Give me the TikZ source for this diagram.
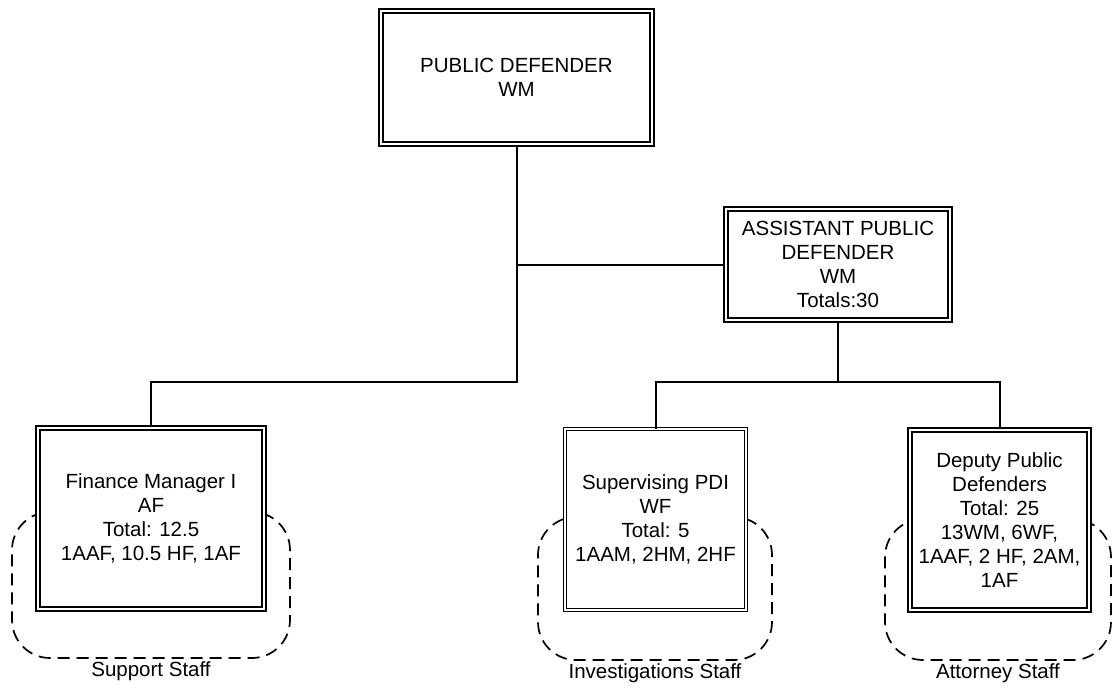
\documentclass[tikz,border=0pt]{standalone}
\usepackage{fontspec}
\setmainfont{Liberation Sans}
\usetikzlibrary{positioning}
\begin{document}
\begin{tikzpicture}
  [x=1pt,y=-1pt,every node/.style={align=center,font=\fontsize{20.5}{24}\selectfont},
   post/.style={rectangle,draw,double,double distance=2.2pt,line width=1.8pt,fill=white,inner sep=2pt},
   thinpost/.style={post,line width=1pt,double distance=2.4pt},
   staffgrp/.style={rectangle,draw,dash pattern=on 12pt off 7pt,line width=1.7pt,rounded corners=38pt},
   grplabel/.style={inner sep=0pt},
   link/.style={line width=2pt}]
\useasboundingbox (0,0) rectangle (1112,688);
% dashed staff groups
\node (supgrp)[staffgrp,minimum width=278,minimum height=146] at (151,585) {};
  \node (invgrp)[staffgrp,minimum width=234,minimum height=143] at (655,588.5) {};
  \node (attgrp)[staffgrp,minimum width=226,minimum height=141] at (998,589.5) {};
  \node (suplbl)[grplabel,below=3pt of supgrp] {Support Staff};
  \node (invlbl)[grplabel,below=3pt of invgrp] {Investigations Staff};
  \node (attlbl)[grplabel,below=3pt of attgrp] {Attorney Staff};
% positions
\node (pd)[post,minimum width=271,minimum height=133] at (516.5,77.5) {PUBLIC DEFENDER\\WM};
  \node (apd)[post,minimum width=224,minimum height=111] at (838,264.5) {ASSISTANT PUBLIC\\DEFENDER\\WM\\Totals:30};
  \node (fin)[post,minimum width=226,minimum height=181] at (151,518.5) {Finance Manager I\\AF\\Total: 12.5\\1AAF, 10.5 HF, 1AF};
  \node (spdi)[thinpost,minimum width=180.6,minimum height=180.6] at (655.5,519.5) {Supervising PDI\\WF\\Total: 5\\1AAM, 2HM, 2HF};
  \node (dpd)[post,minimum width=179,minimum height=180] at (999.5,520) {Deputy Public\\Defenders\\Total: 25\\13WM, 6WF,\\1AAF, 2 HF, 2AM,\\1AF};
 \coordinate (j1) at (516.5,382);
 \coordinate (j2) at (838,382);
 \draw [link] (pd) |- (apd);
 \draw [link] (pd) -- (j1) -| (fin);
 \draw [link] (apd) -- (j2) -| (spdi);
 \draw [link] (j2) -| (dpd);
\end{tikzpicture}
\end{document}
